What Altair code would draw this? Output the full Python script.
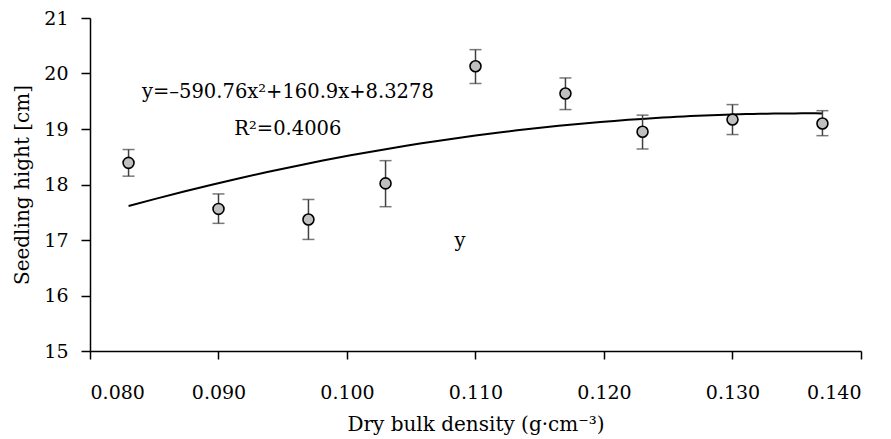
import altair as alt
import pandas as pd

density = [0.083, 0.090, 0.097, 0.103, 0.110, 0.117, 0.123, 0.130, 0.137]
height = [18.39, 17.56, 17.37, 18.02, 20.13, 19.64, 18.95, 19.17, 19.10]
err_lo = [18.15, 17.30, 17.01, 17.60, 19.82, 19.35, 18.64, 18.90, 18.88]
err_hi = [18.63, 17.83, 17.73, 18.43, 20.43, 19.92, 19.25, 19.44, 19.33]

x_ticks = [0.08, 0.09, 0.10, 0.11, 0.12, 0.13, 0.14]
y_ticks = [15, 16, 17, 18, 19, 20, 21]

notes = ["y=\u2013590.76x\u00b2+160.9x+8.3278", "R\u00b2=0.4006", "y"]
note_x = [0.0954, 0.0954, 0.1088]
note_y = [19.56, 18.89, 16.87]

FONT = "DejaVu Serif"

df = pd.DataFrame({"x": density, "y": height, "lo": err_lo, "hi": err_hi})
notes_df = pd.DataFrame({"t": notes, "x": note_x, "y": note_y})

xs = alt.Scale(domain=[0.08, 0.14], nice=False, zero=False)
ys = alt.Scale(domain=[15, 21], nice=False, zero=False)

xaxis = alt.Axis(values=x_ticks, format=".3f", title="Dry bulk density (g\u00b7cm\u207b\u00b3)",
                 grid=False, tickSize=8)
yaxis = alt.Axis(values=y_ticks, format="d", title="Seedling hight [cm]",
                 grid=False, tickSize=9, labelPadding=13, titlePadding=11)

base = alt.Chart(df)

fit = base.transform_regression("x", "y", method="poly", order=2).mark_line(
    color="black", strokeWidth=2
).encode(x=alt.X("x:Q", scale=xs, axis=xaxis), y=alt.Y("y:Q", scale=ys, axis=yaxis))

bars = base.mark_rule(color="#404040", strokeWidth=1.5).encode(
    x=alt.X("x:Q", scale=xs), y=alt.Y("lo:Q", scale=ys), y2="hi:Q"
)
cap_lo = base.mark_tick(orient="horizontal", color="#404040", size=12, thickness=1.5).encode(
    x=alt.X("x:Q", scale=xs), y=alt.Y("lo:Q", scale=ys)
)
cap_hi = base.mark_tick(orient="horizontal", color="#404040", size=12, thickness=1.5).encode(
    x=alt.X("x:Q", scale=xs), y=alt.Y("hi:Q", scale=ys)
)
pts = base.mark_point(filled=False, shape="circle", size=120, fill="#c0c0c0",
                      stroke="black", strokeWidth=1.6, opacity=1).encode(
    x=alt.X("x:Q", scale=xs), y=alt.Y("y:Q", scale=ys)
)
txt = alt.Chart(notes_df).mark_text(font=FONT, fontSize=19.5, color="black",
                                    align="center", baseline="alphabetic").encode(
    x=alt.X("x:Q", scale=xs), y=alt.Y("y:Q", scale=ys), text="t:N"
)

chart = alt.layer(fit, bars, cap_lo, cap_hi, pts, txt).properties(
    width=771, height=333,
    autosize=alt.AutoSizeParams(type="none"),
    padding={"left": 90, "top": 18, "right": 30, "bottom": 88},
).configure_view(stroke=None).configure_axis(
    labelFont=FONT, titleFont=FONT, labelFontSize=19, titleFontSize=20,
    labelColor="black", titleColor="black", titleFontWeight="normal",
    domainColor="black", tickColor="black", domainWidth=1.5, tickWidth=1.5,
).configure_axisX(labelPadding=24, titlePadding=12)

chart.save("out.html", embed_options={"renderer": "svg", "actions": False})
